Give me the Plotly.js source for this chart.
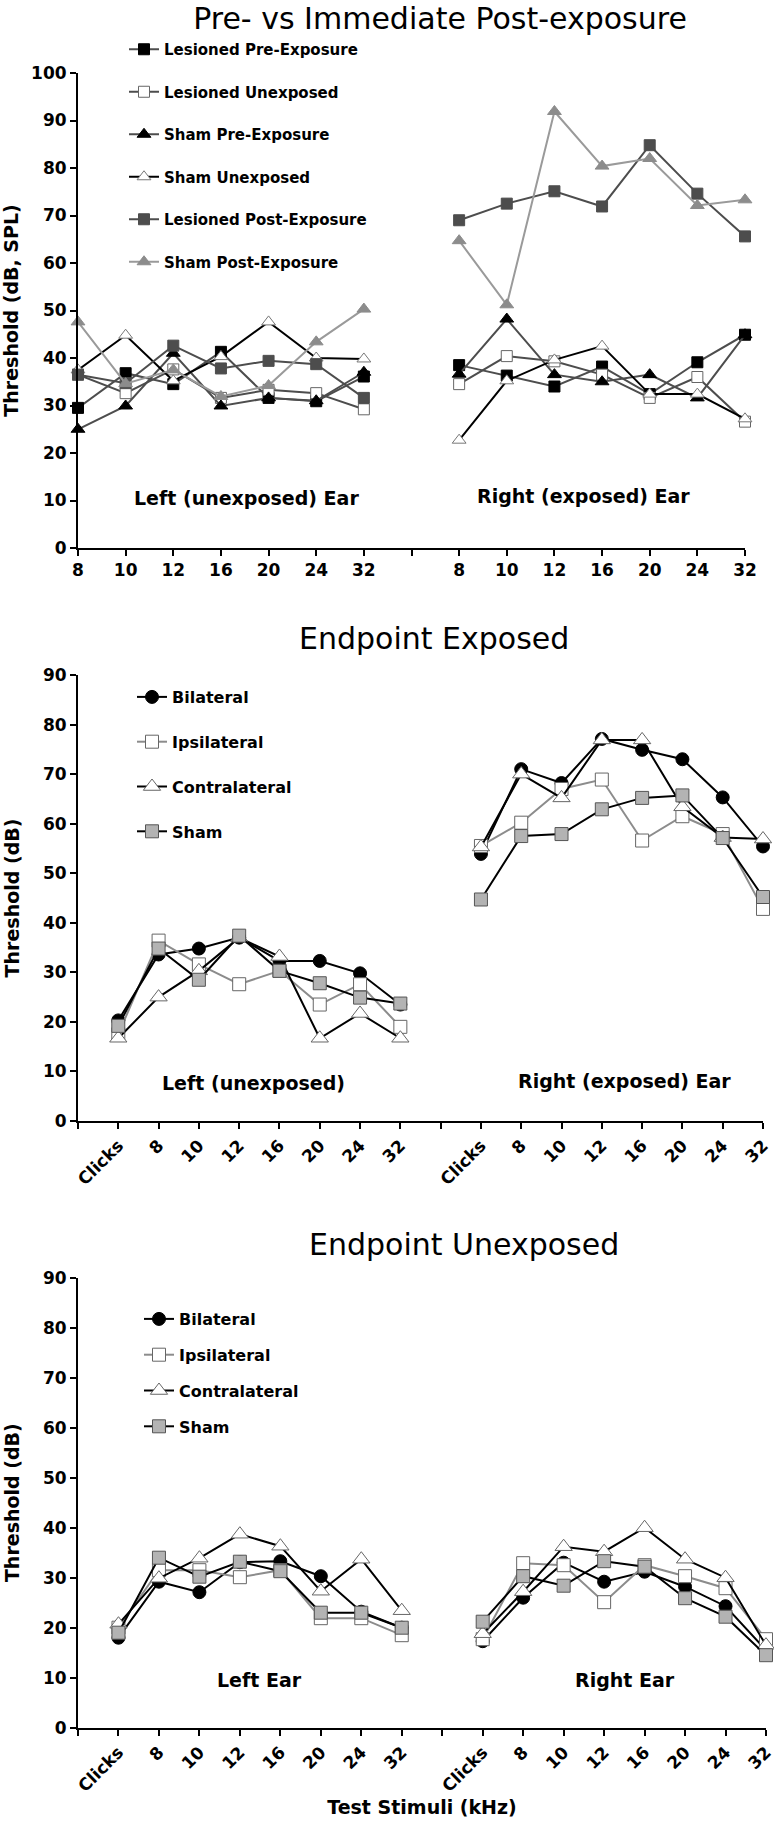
<!DOCTYPE html>
<html>
<head>
<meta charset="utf-8">
<script src="https://cdn.plot.ly/plotly-3.0.1.min.js"></script>
<style>
  html, body { margin: 0; padding: 0; background: #fff; }
  #chart { width: 774px; height: 1822px; }
</style>
</head>
<body>
<div id="chart"></div>
<script>
// ---------------- DATA ----------------
const topFreqs = ['8', '10', '12', '16', '20', '24', '32'];
const endFreqs = ['Clicks', '8', '10', '12', '16', '20', '24', '32'];

// Panel 1: Pre- vs Immediate Post-exposure (left ear, right ear)
const lesPreLeft     = [29.5, 36.8, 34.5, 41.3, 31.6, 30.9, 36.1];
const lesPreRight    = [38.5, 36.3, 34.0, 38.2, 32.4, 39.1, 44.9];
const lesUnexpLeft   = [36.5, 32.6, 37.6, 31.6, 33.3, 32.6, 29.2];
const lesUnexpRight  = [34.5, 40.4, 39.3, 36.5, 31.6, 36.0, 26.6];
const shamPreLeft    = [25.0, 29.9, 41.0, 29.9, 31.6, 31.0, 37.0];
const shamPreRight   = [36.6, 48.2, 36.5, 35.0, 36.5, 31.6, 44.9];
const shamUnexpLeft  = [37.5, 44.8, 35.2, 40.3, 47.6, 40.0, 39.8];
const shamUnexpRight = [22.7, 35.2, 39.6, 42.5, 32.4, 32.4, 27.2];
const lesPostLeft    = [36.5, 34.7, 42.6, 37.8, 39.4, 38.7, 31.6];
const lesPostRight   = [69.0, 72.5, 75.1, 71.9, 84.8, 74.6, 65.6];
const shamPostLeft   = [47.6, 34.6, 37.5, 31.9, 34.2, 43.4, 50.3];
const shamPostRight  = [64.7, 51.2, 91.9, 80.4, 82.0, 72.1, 73.3];

// Panel 2: Endpoint Exposed
const expBilLeft     = [20.3, 33.6, 34.8, 37.0, 32.3, 32.3, 29.8, 23.5];
const expBilRight    = [53.9, 71.0, 68.2, 77.1, 74.9, 73.0, 65.3, 55.4];
const expIpsiLeft    = [17.5, 36.4, 31.6, 27.6, 30.3, 23.5, 27.6, 19.0];
const expIpsiRight   = [55.5, 60.2, 67.0, 68.9, 56.6, 61.5, 57.9, 42.8];
const expContraLeft  = [16.7, 25.0, 30.3, 37.0, 33.2, 16.7, 21.7, 16.7];
const expContraRight = [55.3, 70.0, 65.2, 76.9, 76.9, 63.4, 57.2, 56.9];
const expShamLeft    = [19.2, 34.8, 28.5, 37.4, 30.3, 27.8, 24.9, 23.7];
const expShamRight   = [44.7, 57.5, 57.9, 62.9, 65.2, 65.7, 57.1, 45.2];

// Panel 3: Endpoint Unexposed
const unBilLeft      = [18.0, 29.2, 27.1, 33.1, 33.3, 30.3, 23.2, 20.0];
const unBilRight     = [17.3, 26.0, 33.0, 29.2, 31.2, 28.2, 24.3, 15.5];
const unIpsiLeft     = [20.0, 31.5, 31.5, 30.1, 31.5, 21.9, 21.9, 18.5];
const unIpsiRight    = [17.7, 32.9, 32.5, 25.1, 32.5, 30.3, 27.9, 17.7];
const unContraLeft   = [20.7, 29.9, 33.9, 38.7, 36.3, 27.3, 33.7, 23.4];
const unContraRight  = [18.8, 27.2, 36.2, 35.2, 40.0, 33.7, 30.0, 16.5];
const unShamLeft     = [19.0, 34.0, 30.2, 33.2, 31.3, 23.0, 23.0, 20.0];
const unShamRight    = [21.2, 30.3, 28.4, 33.3, 32.2, 25.9, 22.2, 14.5];

// ---------------- LAYOUT HELPERS ----------------
const W = 774, H = 1822, ML = 78, PW = W - ML;
const FONT = 'DejaVu Sans';
const px2x = p => (p - ML) / PW;
const py2y = p => 1 - p / H;

// Builds x positions / y values for a two-ear series (gap between ears)
function earXY(left, right, startL) {
  const xs = [], ys = [];
  left.forEach((v, i) => { xs.push(startL + i); ys.push(v); });
  xs.push(startL + left.length); ys.push(null);
  right.forEach((v, i) => { xs.push(startL + left.length + 1 + i); ys.push(v); });
  return { xs, ys };
}

function mkTrace(name, left, right, startL, xa, ya, leg, lineColor, sym, fill, edge, msize, grp) {
  const d = earXY(left, right, startL);
  return {
    type: 'scatter', mode: 'lines+markers', name: name,
    x: d.xs, y: d.ys, xaxis: xa, yaxis: ya, legend: leg, legendgroup: grp,
    connectgaps: false, cliponaxis: false,
    line: { color: lineColor, width: 2 },
    marker: { symbol: sym, color: fill, size: msize, line: { color: edge, width: 1 } }
  };
}

const traces = [
  // Panel 1
  mkTrace('Lesioned Pre-Exposure', lesPreLeft, lesPreRight, 0, 'x', 'y', 'legend', '#4d4d4d', 'square', '#000000', '#000000', 11, 'a1'),
  mkTrace('Lesioned Unexposed', lesUnexpLeft, lesUnexpRight, 0, 'x', 'y', 'legend', '#4d4d4d', 'square', '#ffffff', '#666666', 11, 'a2'),
  mkTrace('Sham Pre-Exposure', shamPreLeft, shamPreRight, 0, 'x', 'y', 'legend', '#4d4d4d', 'triangle-up', '#000000', '#000000', 12, 'a3'),
  mkTrace('Sham Unexposed', shamUnexpLeft, shamUnexpRight, 0, 'x', 'y', 'legend', '#000000', 'triangle-up', '#ffffff', '#777777', 12, 'a4'),
  mkTrace('Lesioned Post-Exposure', lesPostLeft, lesPostRight, 0, 'x', 'y', 'legend', '#4d4d4d', 'square', '#4d4d4d', '#4d4d4d', 11, 'a5'),
  mkTrace('Sham Post-Exposure', shamPostLeft, shamPostRight, 0, 'x', 'y', 'legend', '#9a9a9a', 'triangle-up', '#8c8c8c', '#8c8c8c', 12, 'a6'),
  // Panel 2
  mkTrace('Bilateral', expBilLeft, expBilRight, 1, 'x2', 'y2', 'legend2', '#000000', 'circle', '#000000', '#000000', 13, 'b1'),
  mkTrace('Ipsilateral', expIpsiLeft, expIpsiRight, 1, 'x2', 'y2', 'legend2', '#8c8c8c', 'square', '#ffffff', '#666666', 13, 'b2'),
  mkTrace('Contralateral', expContraLeft, expContraRight, 1, 'x2', 'y2', 'legend2', '#000000', 'triangle-up', '#ffffff', '#666666', 15, 'b3'),
  mkTrace('Sham', expShamLeft, expShamRight, 1, 'x2', 'y2', 'legend2', '#000000', 'square', '#b3b3b3', '#555555', 13, 'b4'),
  // Panel 3
  mkTrace('Bilateral', unBilLeft, unBilRight, 1, 'x3', 'y3', 'legend3', '#000000', 'circle', '#000000', '#000000', 13, 'c1'),
  mkTrace('Ipsilateral', unIpsiLeft, unIpsiRight, 1, 'x3', 'y3', 'legend3', '#8c8c8c', 'square', '#ffffff', '#666666', 13, 'c2'),
  mkTrace('Contralateral', unContraLeft, unContraRight, 1, 'x3', 'y3', 'legend3', '#000000', 'triangle-up', '#ffffff', '#666666', 15, 'c3'),
  mkTrace('Sham', unShamLeft, unShamRight, 1, 'x3', 'y3', 'legend3', '#000000', 'square', '#b3b3b3', '#555555', 13, 'c4')
];

const tickFont = { family: FONT, size: 17, color: '#000', weight: 'bold' };
const axisBase = {
  showgrid: false, zeroline: false, showline: true, linecolor: '#000', linewidth: 2,
  ticks: 'outside', ticklen: 6, tickwidth: 2, tickcolor: '#000', tickfont: tickFont, fixedrange: true,
  ticklabeloverflow: 'allow'
};

const topTickVals = [], topTickText = [];
topFreqs.forEach((f, i) => { topTickVals.push(i); topTickText.push(f); });
topTickVals.push(topFreqs.length); topTickText.push('');
topFreqs.forEach((f, i) => { topTickVals.push(topFreqs.length + 1 + i); topTickText.push(f); });

const endTickVals = [0], endTickText = [''];
endFreqs.forEach((f, i) => { endTickVals.push(1 + i); endTickText.push(f); });
endTickVals.push(endFreqs.length + 1); endTickText.push('');
endFreqs.forEach((f, i) => { endTickVals.push(endFreqs.length + 2 + i); endTickText.push(f); });

const yTitleFont = { family: FONT, size: 19, color: '#000', weight: 'bold' };

const legendBase = {
  xanchor: 'left', yanchor: 'top', bgcolor: 'rgba(0,0,0,0)', borderwidth: 0,
  orientation: 'v', traceorder: 'grouped'
};

const inText = (txt, cx, cy) => ({
  text: txt, xref: 'paper', yref: 'paper', x: px2x(cx), y: py2y(cy),
  xanchor: 'center', yanchor: 'middle', showarrow: false,
  font: { family: FONT, size: 19, color: '#000', weight: 'bold' }
});
const titleText = (txt, cx, cy) => ({
  text: txt, xref: 'paper', yref: 'paper', x: px2x(cx), y: py2y(cy),
  xanchor: 'center', yanchor: 'middle', showarrow: false,
  font: { family: FONT, size: 30, color: '#000' }
});

const layout = {
  width: W, height: H, margin: { l: ML, r: 0, t: 0, b: 0 },
  paper_bgcolor: '#fff', plot_bgcolor: '#fff',
  font: { family: FONT, color: '#000' },
  title: {
    text: 'Pre- vs Immediate Post-exposure', font: { family: FONT, size: 30, color: '#000' },
    xref: 'paper', x: px2x(440), xanchor: 'center', yref: 'container', y: py2y(18), yanchor: 'middle'
  },
  xaxis: Object.assign({}, axisBase, {
    domain: [0, px2x(745)], range: [0, 14.0001], tickmode: 'array', tickvals: topTickVals, ticktext: topTickText,
    anchor: 'y'
  }),
  yaxis: Object.assign({}, axisBase, {
    domain: [py2y(548), py2y(73)], range: [0, 100], dtick: 10, tick0: 0, anchor: 'x',
    title: { text: 'Threshold (dB, SPL)', font: yTitleFont, standoff: 10 }
  }),
  xaxis2: Object.assign({}, axisBase, {
    domain: [0, px2x(763)], range: [0, 17.0001], tickmode: 'array', tickvals: endTickVals, ticktext: endTickText,
    tickangle: -45, anchor: 'y2'
  }),
  yaxis2: Object.assign({}, axisBase, {
    domain: [py2y(1121), py2y(675)], range: [0, 90], dtick: 10, tick0: 0, anchor: 'x2',
    title: { text: 'Threshold (dB)', font: yTitleFont, standoff: 18 }
  }),
  xaxis3: Object.assign({}, axisBase, {
    domain: [0, px2x(766)], range: [0, 17.0001], tickmode: 'array', tickvals: endTickVals, ticktext: endTickText,
    tickangle: -45, anchor: 'y3',
    title: { text: 'Test Stimuli (kHz)', font: { family: FONT, size: 19, color: '#000', weight: 'bold' }, standoff: 4 }
  }),
  yaxis3: Object.assign({}, axisBase, {
    domain: [py2y(1727.7), py2y(1277.7)], range: [0, 90], dtick: 10, tick0: 0, anchor: 'x3',
    title: { text: 'Threshold (dB)', font: yTitleFont, standoff: 18 }
  }),
  legend: Object.assign({}, legendBase, {
    x: px2x(124), y: py2y(33), tracegroupgap: 20,
    font: { family: FONT, size: 15, color: '#000', weight: 'bold' }
  }),
  legend2: Object.assign({}, legendBase, {
    x: px2x(132), y: py2y(680), tracegroupgap: 21,
    font: { family: FONT, size: 16, color: '#000', weight: 'bold' }
  }),
  legend3: Object.assign({}, legendBase, {
    x: px2x(139), y: py2y(1302), tracegroupgap: 12,
    font: { family: FONT, size: 16, color: '#000', weight: 'bold' }
  }),
  annotations: [
    titleText('Endpoint Exposed', 434, 638),
    titleText('Endpoint Unexposed', 464, 1244),
    inText('Left (unexposed) Ear', 246, 498),
    inText('Right (exposed) Ear', 583, 496),
    inText('Left (unexposed)', 253, 1083),
    inText('Right (exposed) Ear', 624, 1081),
    inText('Left Ear', 259, 1680),
    inText('Right Ear', 625, 1680)
  ],
  showlegend: true
};

Plotly.newPlot('chart', traces, layout, { displayModeBar: false, staticPlot: true });
</script>
</body>
</html>
